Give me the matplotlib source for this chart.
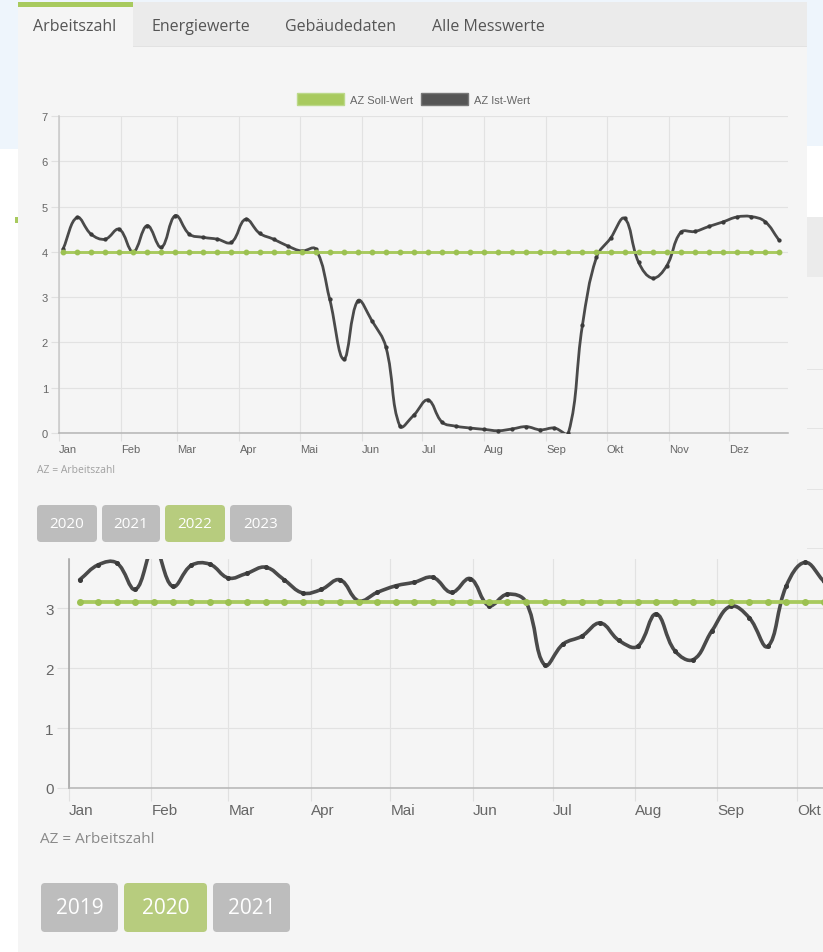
import numpy as np
import matplotlib
matplotlib.use("Agg")
import matplotlib.pyplot as plt
import matplotlib.dates as mdates
import matplotlib.transforms as mtransforms
from matplotlib.patches import Rectangle, FancyBboxPatch, PathPatch, Patch
from matplotlib.path import Path

W, H = 823, 953

# ---- data -------------------------------------------------------------
tabs = ["Arbeitszahl", "Energiewerte", "Gebäudedaten", "Alle Messwerte"]
months_de = ["Jan", "Feb", "Mar", "Apr", "Mai", "Jun",
             "Jul", "Aug", "Sep", "Okt", "Nov", "Dez"]
legend_labels = ["AZ Soll-Wert", "AZ Ist-Wert"]
footnote = "AZ = Arbeitszahl"

# 2022, weekly values
top_year = 2022
top_first_week = "2022-01-03"
top_ist = [4.06, 4.76, 4.39, 4.28, 4.50, 4.00, 4.58, 4.10, 4.80, 4.39,
           4.32, 4.28, 4.21, 4.72, 4.41, 4.28, 4.13, 4.02, 4.06, 2.95,
           1.63, 2.92, 2.48, 1.90, 0.15, 0.40, 0.73, 0.24, 0.15, 0.11,
           0.08, 0.05, 0.09, 0.14, 0.07, 0.11, 0.00, 2.38, 3.88, 4.30,
           4.74, 3.77, 3.42, 3.69, 4.43, 4.45, 4.56, 4.66, 4.77, 4.78,
           4.67, 4.26]
top_soll = [4.0] * len(top_ist)
top_years = ["2020", "2021", "2022", "2023"]
top_active = "2022"

# 2020, weekly values
bottom_year = 2020
bottom_first_week = "2020-01-05"
bottom_ist = [3.47, 3.72, 3.75, 3.31, 4.00, 3.36, 3.71, 3.73, 3.50, 3.58,
              3.68, 3.47, 3.25, 3.31, 3.47, 3.12, 3.26, 3.37, 3.43, 3.51,
              3.26, 3.49, 3.04, 3.23, 3.10, 2.05, 2.40, 2.53, 2.75, 2.46,
              2.36, 2.90, 2.29, 2.14, 2.62, 3.03, 2.84, 2.36, 3.37, 3.76,
              3.45]
bottom_soll = [3.1] * len(bottom_ist)
bottom_years = ["2019", "2020", "2021"]
bottom_active = "2020"

GREEN = "#A8CA5E"
DARK = "#4A4A4A"
BTN_GRAY = "#BDBDBD"
BTN_GREEN = "#B7CC7E"
PANEL = "#F5F5F5"
TABBAR = "#EBEBEB"
UI_FONT = ["Open Sans", "DejaVu Sans"]
CHART_FONT = ["Liberation Sans", "DejaVu Sans"]

fig = plt.figure(figsize=(W / 100, H / 100), dpi=100, facecolor="white")
# pixel coordinates, origin top-left
px = mtransforms.Affine2D().scale(1 / W, -1 / H).translate(0, 1) + fig.transFigure


def rect(x, y, w, h, color, z=-10):
    fig.patches.append(Rectangle((x, y), w, h, transform=px, facecolor=color,
                                 edgecolor="none", zorder=z))


def button(x, y, w, h, label, active, fs):
    fig.patches.append(FancyBboxPatch(
        (x, y), w, h, boxstyle="round,pad=0,rounding_size=4", transform=px,
        facecolor=BTN_GREEN if active else BTN_GRAY, edgecolor="none", zorder=1))
    fig.text(x + w / 2, y + h / 2, label, transform=px, ha="center", va="center",
             fontsize=fs, color="white", family=UI_FONT, zorder=2)


def make_axes(left, top, right, bottom):
    ax = fig.add_axes([left / W, 1 - bottom / H, (right - left) / W, (bottom - top) / H])
    ax.set_facecolor("none")
    return ax


def smooth_line(ax, x, y, color, lw, tension=0.4):
    # Chart.js style bezier through the points, computed in screen space
    pts = ax.transData.transform(np.column_stack([x, y]))
    n = len(pts)
    cp_in, cp_out = [], []
    for i in range(n):
        p = pts[i]
        prev = pts[max(i - 1, 0)]
        nxt = pts[min(i + 1, n - 1)]
        d01 = np.hypot(*(p - prev))
        d12 = np.hypot(*(nxt - p))
        tot = d01 + d12
        s01 = d01 / tot if tot else 0
        s12 = d12 / tot if tot else 0
        cp_in.append(p - tension * s01 * (nxt - prev))
        cp_out.append(p + tension * s12 * (nxt - prev))
    verts = [pts[0]]
    codes = [Path.MOVETO]
    for i in range(n - 1):
        verts += [cp_out[i], cp_in[i + 1], pts[i + 1]]
        codes += [Path.CURVE4] * 3
    verts = ax.transData.inverted().transform(np.array(verts))
    ax.add_patch(PathPatch(Path(verts, codes), fill=False, edgecolor=color,
                           lw=lw, capstyle="round", joinstyle="round", zorder=3))


def style_axes(ax, fs, tick_len, pad, left_col, bottom_col):
    ax.grid(True, color="#E2E2E2", lw=0.8)
    ax.set_axisbelow(True)
    for s in ["top", "right"]:
        ax.spines[s].set_visible(False)
    ax.spines["left"].set_color(left_col)
    ax.spines["bottom"].set_color(bottom_col)
    ax.spines["left"].set_linewidth(1.1)
    ax.spines["bottom"].set_linewidth(1.1)
    ax.tick_params(axis="both", direction="out", length=tick_len, width=0.8,
                   color="#E0E0E0", labelcolor="#666666", labelsize=fs, pad=pad)
    for lbl in ax.get_xticklabels() + ax.get_yticklabels():
        lbl.set_family(CHART_FONT)


def draw_chart(ax, year, first_week, ist, soll, ymax, xdays, fs, tick_len, pad,
               lw, ms, left_col, bottom_col):
    start = np.datetime64(f"{year}-01-01")
    x0 = mdates.date2num(start)
    dates = mdates.date2num(np.datetime64(first_week) + np.arange(len(ist)) * np.timedelta64(7, "D"))
    month_starts = mdates.date2num(np.array([f"{year}-{m:02d}-01" for m in range(1, 13)],
                                            dtype="datetime64[D]"))
    ax.set_xticks(month_starts)
    ax.set_xticklabels(months_de, ha="left")
    ax.set_yticks(range(0, int(ymax) + 1))
    # limits after the ticks, so the ticks do not widen the view
    ax.set_xlim(x0, x0 + xdays)
    ax.set_ylim(0, ymax)
    style_axes(ax, fs, tick_len, pad, left_col, bottom_col)

    smooth_line(ax, dates, ist, DARK, lw)
    ax.plot(dates, ist, "o", ms=ms * 0.65, color="#3A3A3A", zorder=3.5)
    ax.plot(dates, soll, "-o", color=GREEN, lw=lw * 1.05, ms=ms,
            mfc="#9CC152", mec="#9CC152", zorder=4)
    ax.set_xlim(x0, x0 + xdays)
    ax.set_ylim(0, ymax)


# ---- page background ------------------------------------------------
rect(0, 0, W, 150, "#EEF5FC", z=-20)
rect(807, 147, 16, 71, "white", z=-19)
rect(807, 218, 16, 60, TABBAR, z=-19)
rect(807, 278, 16, H - 278, PANEL, z=-19)
for yy in [370, 429, 490, 549]:
    rect(807, yy, 16, 1.2, "#E4E4E4", z=-18)
rect(0, 150, 18, H - 150, "white", z=-19)
rect(15, 218, 4, 6, GREEN, z=-18)
rect(18, 3, 789, H - 3, PANEL, z=-15)
rect(18, 3, 789, 45, TABBAR, z=-14)
rect(18, 47, 789, 1, "#E2E2E2", z=-14)
rect(18, 3, 115, 45, PANEL, z=-13)
rect(18, 3, 115, 5, GREEN, z=-12)

# tabs
for label, cx in zip(tabs, [75, 201, 341, 488]):
    fig.text(cx, 27, label, transform=px, ha="center", va="center",
             fontsize=11.5, color="#555555", family=UI_FONT)

# ---- top chart (2022) -------------------------------------------------
ax1 = make_axes(59, 117, 788, 434)
draw_chart(ax1, top_year, top_first_week, top_ist, top_soll, 7, 363.5,
           fs=8, tick_len=6, pad=2, lw=2.0, ms=3.2,
           left_col="#C8C8C8", bottom_col="#B4B4B4")

handles = [Patch(facecolor=GREEN, edgecolor="#BCD98A"),
           Patch(facecolor="#555555", edgecolor="#777777")]
leg = ax1.legend(handles, legend_labels, loc="center", ncol=2,
                 bbox_to_anchor=(413.5 / W, 1 - 100 / H), bbox_transform=fig.transFigure,
                 frameon=False, handlelength=4.2, handleheight=1.2,
                 handletextpad=0.5, columnspacing=0.8, borderpad=0,
                 prop={"family": CHART_FONT, "size": 8})
for t in leg.get_texts():
    t.set_color("#666666")

fig.text(37, 471, footnote, transform=px, ha="left", va="center",
         fontsize=7.5, color="#A0A0A0", family=UI_FONT)

x = 37
for label, w in zip(top_years, [60, 58, 60, 62]):
    button(x, 506, w, 37, label, label == top_active, 11)
    x += w + 5

# ---- bottom chart (2020) ----------------------------------------------
ax2 = make_axes(69, 560, 823, 789)
draw_chart(ax2, bottom_year, bottom_first_week, bottom_ist, bottom_soll, 3.817, 283.8,
           fs=11, tick_len=9, pad=2, lw=2.6, ms=4.0,
           left_col="#A0A0A0", bottom_col="#B4B4B4")

fig.text(40, 840, footnote, transform=px, ha="left", va="center",
         fontsize=11, color="#8A8A8A", family=UI_FONT)

x = 41
for label, w in zip(bottom_years, [77, 83, 77]):
    button(x, 884, w, 49, label, label == bottom_active, 15)
    x += w + 6

fig.savefig("out.png", dpi=100, facecolor=fig.get_facecolor())
